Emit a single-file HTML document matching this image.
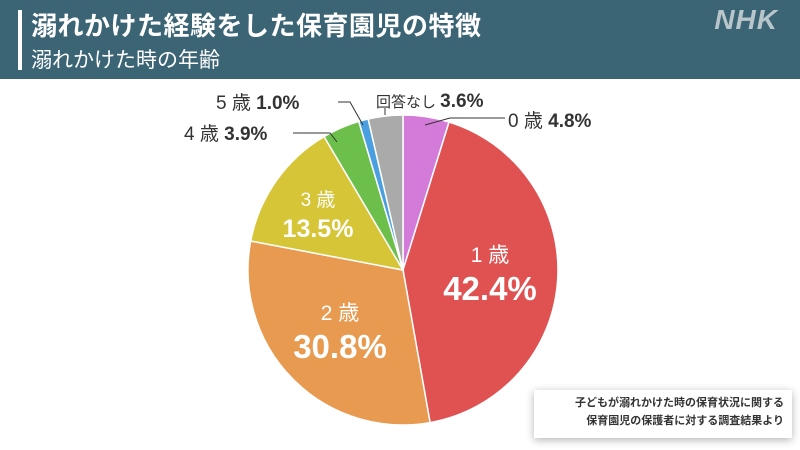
<!DOCTYPE html>
<html><head><meta charset="utf-8"><style>
body{margin:0;width:800px;height:450px;overflow:hidden;background:#fff;font-family:"Liberation Sans","Noto Sans CJK JP",sans-serif;position:relative}
.hd{position:absolute;left:0;top:0;width:800px;height:79px;background:#3b6475}
.bar{position:absolute;left:18px;top:10px;width:4px;height:60px;background:#fff}
.t1{position:absolute;left:31px;top:6px;color:#fff;font-size:26px;font-weight:bold;letter-spacing:0.5px}
.t2{position:absolute;left:31px;top:44px;color:#fff;font-size:21px}
.nhk{position:absolute;right:22px;top:4px;color:#b8c6cc;font-size:28px;font-weight:bold;font-style:italic;letter-spacing:1px}
.src{position:absolute;left:534px;top:390px;width:258px;height:48px;background:#fff;box-shadow:0 2px 8px rgba(0,0,0,.3);font-size:11px;font-weight:bold;color:#333;text-align:right;line-height:18px;padding:4px 8px 0 0;box-sizing:border-box}
</style></head><body>
<div class="hd"><div class="bar"></div><div class="t1">溺れかけた経験をした保育園児の特徴</div><div class="t2">溺れかけた時の年齢</div><div class="nhk">NHK</div></div>
<svg width="800" height="450" style="position:absolute;left:0;top:0">
<g stroke="#fff" stroke-width="1.5">
<path d="M403,270 L403,115 A155,155 0 0 1 449.05,122 Z" fill="#d47bd9"/>
<path d="M403,270 L449.05,122 A155,155 0 0 1 430.1,422.6 Z" fill="#e05252"/>
<path d="M403,270 L430.1,422.6 A155,155 0 0 1 250.7,241 Z" fill="#e89a50"/>
<path d="M403,270 L250.7,241 A155,155 0 0 1 324.1,136.6 Z" fill="#d6c537"/>
<path d="M403,270 L324.1,136.6 A155,155 0 0 1 358.8,121.4 Z" fill="#6bbf4a"/>
<path d="M403,270 L358.8,121.4 A155,155 0 0 1 368.2,119 Z" fill="#4a9fe0"/>
<path d="M403,270 L368.2,119 A155,155 0 0 1 403,115 Z" fill="#aaaaaa"/>
</g>
<g stroke="#333" fill="none" stroke-width="1">
<polyline points="425,125 450,118 505,118"/>
<polyline points="293,133 330,133 337,142"/>
<polyline points="338,102 350,102 363,125"/>
<polyline points="385,115 385,108"/>
</g>
<g font-family="Liberation Sans,Noto Sans CJK JP,sans-serif" fill="#333">
<text x="508" y="127" font-size="19">0 歳 <tspan font-weight="bold">4.8%</tspan></text>
<text x="184" y="140" font-size="19">4 歳 <tspan font-weight="bold">3.9%</tspan></text>
<text x="216" y="109" font-size="19">5 歳 <tspan font-weight="bold">1.0%</tspan></text>
<text x="376" y="107" font-size="15">回答なし <tspan font-size="19" font-weight="bold">3.6%</tspan></text>
</g>
<g font-family="Liberation Sans,Noto Sans CJK JP,sans-serif" fill="#fff" text-anchor="middle">
<text x="490" y="262" font-size="21">1 歳</text>
<text x="490" y="300" font-size="33" font-weight="bold">42.4%</text>
<text x="340" y="320" font-size="21">2 歳</text>
<text x="340" y="358" font-size="33" font-weight="bold">30.8%</text>
<text x="318" y="206" font-size="19">3 歳</text>
<text x="318" y="237" font-size="25" font-weight="bold">13.5%</text>
</g>
</svg>
<div class="src">子どもが溺れかけた時の保育状況に関する<br>保育園児の保護者に対する調査結果より</div>
</body></html>
